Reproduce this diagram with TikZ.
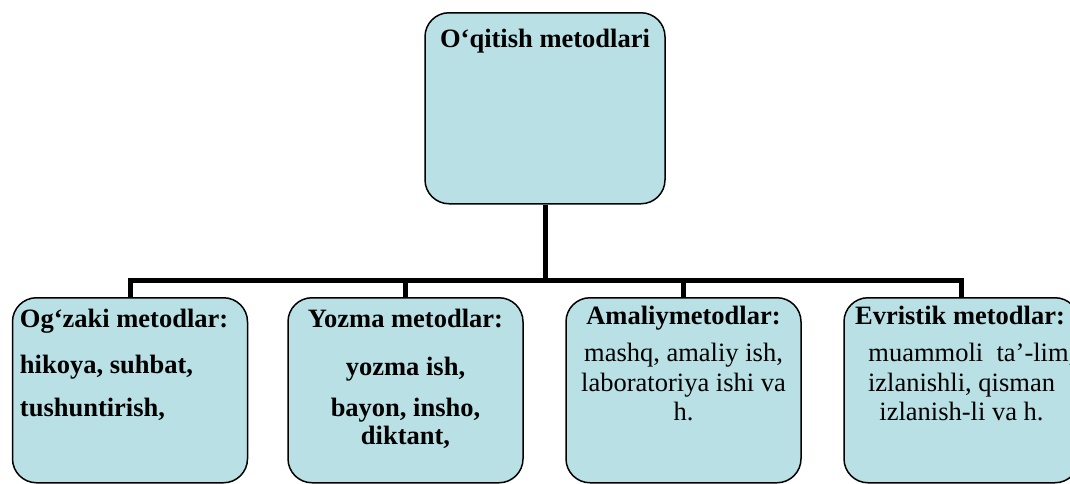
\documentclass[tikz,border=0pt]{standalone}
\usepackage{fontspec}
\setmainfont{Liberation Serif}
\usepackage{tikz}
\usetikzlibrary{calc}
\definecolor{boxblue}{RGB}{185,224,228}

\begin{document}
\begin{tikzpicture}[x=1pt, y=-1pt,
    methodbox/.style={draw, line width=1.5pt, fill=boxblue, rounded corners=24pt, minimum width=235pt, minimum height=185pt, anchor=north, inner sep=0pt},
    conn/.style={line width=5pt},
    txt/.style={anchor=base, inner sep=0pt, font=\fontsize{26.5}{30}\selectfont},
    txtb/.style={txt, font=\fontsize{26.5}{30}\selectfont\bfseries}]
    \clip (0, 0) rectangle (1070, 483);
    \useasboundingbox (0, 0) rectangle (1070, 483);
    % 方框
    \node [methodbox, minimum width=240pt, minimum height=191pt] (main) at (545, 12) {};
    \node [methodbox] (oral) at (130, 297) {};
    \node [methodbox] (written) at (405.5, 297) {};
    \node [methodbox] (practical) at (683.5, 297) {};
    \node [methodbox] (heuristic) at (961.5, 297) {};
    \coordinate (bus) at (545, 280); % 横线高度

    % 连接线
    \draw [conn] (main.south) -- (main.south |- bus);
    \draw [conn] (oral.north) -- (oral.north |- bus) -- (heuristic.north |- bus) -- (heuristic.north);
    \foreach \b in {written, practical}
        \draw [conn] (\b.north |- bus) -- (\b.north);

    % 文字
    \node [txtb] (main-t) at ($(main.north) + (0, 35)$) {O‘qitish metodlari};

    \node [txtb, anchor=base west] (oral-t) at ($(oral.north west) + (8, 30)$) {Og‘zaki metodlar:};
    \node [txtb, anchor=base west] (oral-a) at ($(oral.north west) + (8, 76)$) {hikoya, suhbat,};
    \node [txtb, anchor=base west] (oral-b) at ($(oral.north west) + (8, 119)$) {tushuntirish,};

    \node [txtb] (written-t) at ($(written.north) + (0, 30)$) {Yozma metodlar:};
    \node [txtb] (written-a) at ($(written.north) + (0, 78)$) {yozma ish,};
    \node [txtb] (written-b) at ($(written.north) + (0, 119)$) {bayon, insho,};
    \node [txtb] (written-c) at ($(written.north) + (0, 147)$) {diktant,};

    \node [txtb] (practical-t) at ($(practical.north) + (0, 27)$) {Amaliymetodlar:};
    \node [txt] (practical-a) at ($(practical.north) + (0, 64)$) {mashq, amaliy ish,};
    \node [txt] (practical-b) at ($(practical.north) + (0, 94)$) {laboratoriya ishi va};
    \node [txt] (practical-c) at ($(practical.north) + (0, 123)$) {h.};

    \node [txtb] (heuristic-t) at ($(heuristic.north) + (-1.5, 27)$) {Evristik metodlar:};
    \node [txt, anchor=base west] (heuristic-a) at ($(heuristic.north west) + (25, 64)$) {muammoli~~ta’-lim,};
    \node [txt] (heuristic-b) at ($(heuristic.north) + (0, 94)$) {izlanishli, qisman};
    \node [txt] (heuristic-c) at ($(heuristic.north) + (0, 123)$) {izlanish-li va h.};
\end{tikzpicture}
\end{document}
